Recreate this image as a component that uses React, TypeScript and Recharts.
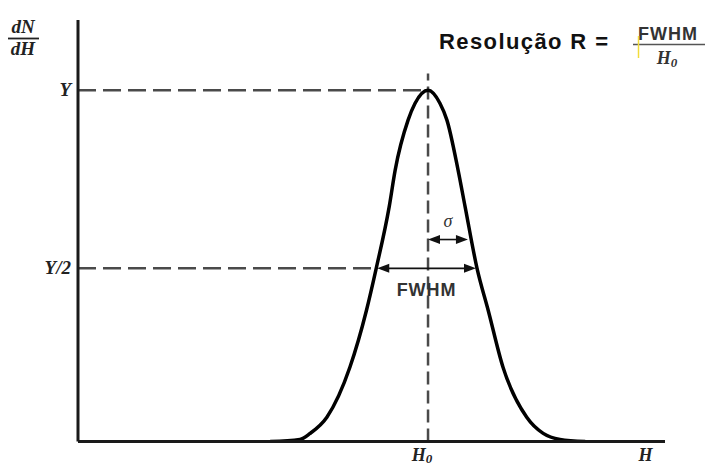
import React from 'react';
import { LineChart, Line, XAxis, YAxis, ReferenceLine } from 'recharts';

// energy H (arbitrary units, H0 = 10) and relative counts dN/dH (peak = 1)
const H_VALUES = [5.49, 6.34, 6.63, 7.11, 7.77, 8.24, 8.52, 8.89, 9.06, 9.43, 9.63, 10.0, 10.34, 10.54, 10.86, 11.06, 11.40, 11.72, 12.14, 12.82, 13.29, 13.77, 14.49];
const COUNT_VALUES = [0, 0.006, 0.023, 0.069, 0.212, 0.373, 0.493, 0.668, 0.772, 0.915, 0.963, 1.0, 0.963, 0.915, 0.772, 0.668, 0.493, 0.373, 0.212, 0.069, 0.023, 0.006, 0];

const H0 = 10;
const PEAK = 1;
const HALF = 0.493;
const FWHM_LEFT = 8.55;
const FWHM_RIGHT = 11.37;
const SIGMA_Y = 0.575;
const SIGMA_RIGHT = 11.14;
const TOP_OF_CENTER_LINE = 1.048;

const Y_TICKS = [HALF, PEAK];
const Y_TICK_LABELS = ['Y/2', 'Y'];
const X_TICKS = [H0, 16.21];

const data = H_VALUES.map((h, i) => ({ h, count: COUNT_VALUES[i] }));

const MATH_FONT = '"Liberation Serif", "DejaVu Serif", serif';
const SANS = '"Liberation Sans", Arial, sans-serif';
const DASH = '#4a4a4a';

const renderYTick = (props: any) => {
  const { x, y, payload } = props;
  const idx = Y_TICKS.indexOf(payload.value);
  return (
    <text x={x + 1} y={y + 6} textAnchor="end" fontFamily={MATH_FONT} fontStyle="italic" fontWeight="bold" fontSize={19} fill="#222">
      {Y_TICK_LABELS[idx]}
    </text>
  );
};

const renderXTick = (props: any) => {
  const { x, y, payload } = props;
  if (payload.value === H0) {
    return (
      <text x={x - 6} y={y + 11} textAnchor="middle" fontFamily={MATH_FONT} fontStyle="italic" fontWeight="bold" fontSize={18} fill="#222">
        H<tspan fontSize={13} dy={2}>0</tspan>
      </text>
    );
  }
  return (
    <text x={x} y={y + 11} textAnchor="middle" fontFamily={MATH_FONT} fontStyle="italic" fontWeight="bold" fontSize={18} fill="#222">
      H
    </text>
  );
};

const arrowShape = (label: string, dy: number, style: any) => (props: any) => {
  const { x1, y1, x2, y2 } = props;
  const left = Math.min(x1, x2);
  const right = Math.max(x1, x2);
  const y = y1;
  return (
    <g>
      <line x1={left + 4} y1={y} x2={right - 4} y2={y2} stroke="#111" strokeWidth={1.6} />
      <polygon points={`${left},${y} ${left + 12},${y - 4.5} ${left + 12},${y + 4.5}`} fill="#111" />
      <polygon points={`${right},${y} ${right - 12},${y - 4.5} ${right - 12},${y + 4.5}`} fill="#111" />
      <text x={(left + right) / 2} y={y + dy} textAnchor="middle" {...style}>
        {label}
      </text>
    </g>
  );
};

const renderAnnotations = () => (
  <g>
    <text x={23} y={33} textAnchor="middle" fontFamily={MATH_FONT} fontStyle="italic" fontWeight="bold" fontSize={19} fill="#222">dN</text>
    <line x1={8} y1={38.5} x2={39} y2={38.5} stroke="#222" strokeWidth={1.8} />
    <text x={23} y={55} textAnchor="middle" fontFamily={MATH_FONT} fontStyle="italic" fontWeight="bold" fontSize={19} fill="#222">dH</text>

    <text x={439} y={49} fontFamily={SANS} fontWeight="bold" fontSize={22} letterSpacing={1.4} fill="#111">
      Resolução R =
    </text>
    <text x={668} y={40} textAnchor="middle" fontFamily={SANS} fontWeight="bold" fontSize={18} letterSpacing={1} fill="#333">
      FWHM
    </text>
    <line x1={633} y1={44.5} x2={705} y2={44.5} stroke="#555" strokeWidth={1.5} />
    <line x1={638.5} y1={36} x2={638.5} y2={58} stroke="#f2dc3c" strokeWidth={1.5} />
    <text x={667} y={64} textAnchor="middle" fontFamily={MATH_FONT} fontStyle="italic" fontWeight="bold" fontSize={18} fill="#333">
      H<tspan fontSize={13} dy={3}>0</tspan>
    </text>
  </g>
);

export default function App() {
  return (
    <div style={{ position: 'fixed', left: 0, top: 0, width: 707, height: 466, background: '#fff' }}>
      <LineChart width={707} height={466} data={data} margin={{ top: 20, right: 42, bottom: 0, left: 18 }}>
        <XAxis
          dataKey="h"
          type="number"
          domain={[0, 16.77]}
          ticks={X_TICKS}
          interval={0}
          tick={renderXTick}
          tickLine={false}
          height={24.5}
          axisLine={{ stroke: '#1a1a1a', strokeWidth: 3 }}
          allowDataOverflow
        />
        <YAxis
          type="number"
          domain={[0, 1.2]}
          ticks={Y_TICKS}
          interval={0}
          tick={renderYTick}
          tickLine={false}
          width={60}
          axisLine={{ stroke: '#1a1a1a', strokeWidth: 3 }}
          label={{ content: renderAnnotations }}
          allowDataOverflow
        />
        <ReferenceLine segment={[{ x: 0, y: PEAK }, { x: H0, y: PEAK }]} stroke={DASH} strokeWidth={2.5} strokeDasharray="18 7" />
        <ReferenceLine segment={[{ x: 0, y: HALF }, { x: FWHM_LEFT, y: HALF }]} stroke={DASH} strokeWidth={2.5} strokeDasharray="18 7" />
        <ReferenceLine segment={[{ x: H0, y: 0 }, { x: H0, y: TOP_OF_CENTER_LINE }]} stroke={DASH} strokeWidth={2.5} strokeDasharray="13 6" />
        <ReferenceLine
          segment={[{ x: H0, y: SIGMA_Y }, { x: SIGMA_RIGHT, y: SIGMA_Y }]}
          shape={arrowShape('σ', -13, { fontFamily: MATH_FONT, fontStyle: 'italic', fontSize: 18, fill: '#333' })}
        />
        <ReferenceLine
          segment={[{ x: FWHM_LEFT, y: HALF }, { x: FWHM_RIGHT, y: HALF }]}
          shape={arrowShape('FWHM', 28, { fontFamily: SANS, fontWeight: 'bold', fontSize: 18, letterSpacing: 1, fill: '#333' })}
        />
        <Line
          dataKey="count"
          type="monotone"
          stroke="#000"
          strokeWidth={3.5}
          dot={false}
          isAnimationActive={false}
        />
      </LineChart>
    </div>
  );
}
